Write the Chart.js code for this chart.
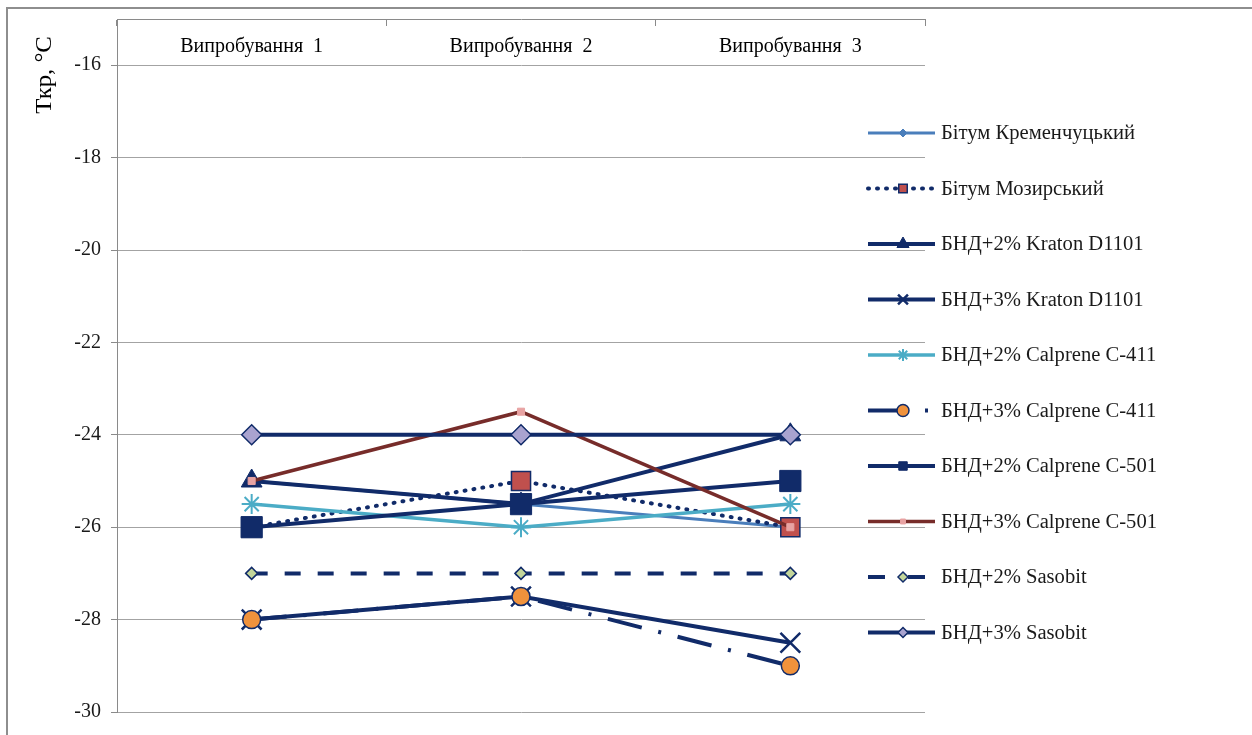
<!DOCTYPE html>
<html>
<head>
<meta charset="utf-8">
<script src="https://cdn.jsdelivr.net/npm/chart.js@4.4.1/dist/chart.umd.min.js"></script>
<style>
  html, body { margin: 0; padding: 0; background: #fff; overflow: hidden; }
  #frame { position: absolute; left: 6px; top: 7px; width: 1300px; height: 800px; border: 2px solid #8e8e8e; box-sizing: border-box; }
  #wrap { position: absolute; left: 0; top: 0; width: 1252px; height: 735px; }
</style>
</head>
<body>
<div id="frame"></div>
<div id="wrap"><canvas id="chart"></canvas></div>
<script>
const categories = ['Випробування  1', 'Випробування  2', 'Випробування  3'];

const kremenchuk = [-25, -25.5, -26];
const mozyr = [-26, -25, -26];
const kraton2 = [-25, -25.5, -24];
const kraton3 = [-28, -27.5, -28.5];
const calprene411_2 = [-25.5, -26, -25.5];
const calprene411_3 = [-28, -27.5, -29];
const calprene501_2 = [-26, -25.5, -25];
const calprene501_3 = [-25, -23.5, -26];
const sasobit2 = [-27, -27, -27];
const sasobit3 = [-24, -24, -24];

const yMin = -30;
const yMax = -15;
const yStep = 2;
const yTitle = 'Ткр, °С';

const navy = '#112B69';
const gridGray = '#a3a3a3';
const axisGray = '#8a8a8a';
const serif = 'Liberation Serif';

function serifText(ctx, text, x, y, size, stretch, align) {
  ctx.save();
  ctx.translate(x, y);
  ctx.scale(stretch, 1);
  ctx.font = size + 'px "' + serif + '"';
  ctx.textAlign = align;
  ctx.textBaseline = 'middle';
  ctx.fillText(text, 0, 0);
  ctx.restore();
}

// legend at the right, drawn by hand so line samples keep dash + marker
const sideLegend = {
  id: 'sideLegend',
  afterDraw(chart) {
    const ctx = chart.ctx;
    chart.data.datasets.forEach((ds, i) => {
      const y = 133 + i * 55.5;
      ctx.save();
      ctx.strokeStyle = ds.borderColor;
      ctx.lineWidth = ds.borderWidth;
      ctx.lineCap = ds.borderCapStyle || 'butt';
      ctx.setLineDash(ds.legendDash || ds.borderDash || []);
      ctx.beginPath();
      ctx.moveTo(868, y);
      ctx.lineTo(935, y);
      ctx.stroke();
      ctx.setLineDash([]);
      ctx.lineCap = 'butt';
      ctx.fillStyle = ds.pointBackgroundColor;
      ctx.strokeStyle = ds.pointBorderColor;
      ctx.lineWidth = ds.pointBorderWidth;
      Chart.helpers.drawPoint(ctx, {
        pointStyle: ds.pointStyle,
        rotation: 0,
        radius: ds.legendRadius,
        borderWidth: ds.pointBorderWidth
      }, 903, y);
      ctx.fillStyle = '#1a1a1a';
      serifText(ctx, ds.label, 941, y + 1, 20, 1.03, 'left');
      ctx.restore();
    });
  }
};

const axisTitle = {
  id: 'axisTitle',
  afterDraw(chart) {
    const ctx = chart.ctx;
    ctx.save();
    ctx.fillStyle = '#000';
    ctx.translate(45, 75);
    ctx.rotate(-Math.PI / 2);
    serifText(ctx, yTitle, 0, 0, 24, 1.03, 'center');
    ctx.restore();
  }
};

let datasets = [
  {
    label: 'Бітум Кременчуцький', data: kremenchuk,
    borderColor: '#4A7EBB', borderWidth: 3,
    pointStyle: 'rectRot', pointRadius: 4, legendRadius: 4,
    pointBackgroundColor: '#4A7EBB', pointBorderColor: '#4A7EBB', pointBorderWidth: 1
  },
  {
    label: 'Бітум Мозирський', data: mozyr,
    borderColor: navy, borderWidth: 4, borderDash: [1, 8], borderCapStyle: 'round',
    pointStyle: 'rect', pointRadius: 13.5, legendRadius: 6,
    pointBackgroundColor: '#C0504D', pointBorderColor: navy, pointBorderWidth: 1.5
  },
  {
    label: 'БНД+2% Kraton D1101', data: kraton2,
    borderColor: navy, borderWidth: 4,
    pointStyle: 'triangle', pointRadius: 12, legendRadius: 7,
    pointBackgroundColor: navy, pointBorderColor: navy, pointBorderWidth: 1
  },
  {
    label: 'БНД+3% Kraton D1101', data: kraton3,
    borderColor: navy, borderWidth: 4,
    pointStyle: 'crossRot', pointRadius: 14, legendRadius: 7,
    pointBackgroundColor: navy, pointBorderColor: navy, pointBorderWidth: 2.5
  },
  {
    label: 'БНД+2% Calprene C-411', data: calprene411_2,
    borderColor: '#4BACC6', borderWidth: 3.5,
    pointStyle: 'star', pointRadius: 10, legendRadius: 6,
    pointBackgroundColor: '#4BACC6', pointBorderColor: '#4BACC6', pointBorderWidth: 2
  },
  {
    label: 'БНД+3% Calprene C-411', data: calprene411_3,
    borderColor: navy, borderWidth: 4, borderDash: [35, 17, 3, 17], legendDash: [35, 22, 3, 20],
    pointStyle: 'circle', pointRadius: 9, legendRadius: 6,
    pointBackgroundColor: '#F0923C', pointBorderColor: navy, pointBorderWidth: 1.5
  },
  {
    label: 'БНД+2% Calprene C-501', data: calprene501_2,
    borderColor: navy, borderWidth: 4,
    pointStyle: 'rect', pointRadius: 15, legendRadius: 6,
    pointBackgroundColor: navy, pointBorderColor: navy, pointBorderWidth: 1
  },
  {
    label: 'БНД+3% Calprene C-501', data: calprene501_3,
    borderColor: '#772C2A', borderWidth: 3.5,
    pointStyle: 'rect', pointRadius: 5, legendRadius: 3.5,
    pointBackgroundColor: '#E8A3A3', pointBorderColor: '#E8A3A3', pointBorderWidth: 1
  },
  {
    label: 'БНД+2% Sasobit', data: sasobit2,
    borderColor: navy, borderWidth: 4, borderDash: [16, 17], legendDash: [17, 23, 17, 50],
    pointStyle: 'rectRot', pointRadius: 6, legendRadius: 5,
    pointBackgroundColor: '#C3D69B', pointBorderColor: navy, pointBorderWidth: 1.5
  },
  {
    label: 'БНД+3% Sasobit', data: sasobit3,
    borderColor: navy, borderWidth: 4,
    pointStyle: 'rectRot', pointRadius: 10, legendRadius: 5,
    pointBackgroundColor: '#A9A3CF', pointBorderColor: navy, pointBorderWidth: 1.5
  }
];

// excel puts later series on top
datasets.forEach((ds, i) => {
  ds.order = -i;
  ds.fill = false;
  ds.tension = 0;
  ds.pointHoverRadius = ds.pointRadius;
});

let config = {
  type: 'line',
  data: { labels: categories, datasets: datasets },
  options: {
    responsive: true,
    maintainAspectRatio: false,
    animation: false,
    events: [],
    layout: { padding: { left: 0, top: 19, right: 327, bottom: 23 } },
    plugins: {
      legend: { display: false },
      tooltip: { enabled: false }
    },
    scales: {
      x: {
        type: 'category',
        position: { y: yMax },
        offset: true,
        grid: { offset: true, drawOnChartArea: false, drawTicks: true, tickLength: 6, tickColor: axisGray },
        border: { color: axisGray },
        ticks: {
          padding: 10, maxRotation: 0, autoSkip: false,
          color: '#000',
          font: { family: serif, size: 20 }
        }
      },
      y: {
        min: yMin,
        max: yMax,
        ticks: {
          stepSize: yStep,
          includeBounds: false,
          padding: 10,
          color: '#1a1a1a',
          font: { family: serif, size: 20 }
        },
        grid: { color: gridGray, tickLength: 6, tickColor: axisGray },
        border: { color: axisGray },
        afterFit: (scale) => {
          scale.width = 117;
          scale.paddingTop = 0;
          scale.paddingBottom = 0;
        }
      }
    }
  },
  plugins: [sideLegend, axisTitle]
};

var ctx = document.getElementById('chart').getContext('2d');
let myChart = new Chart(ctx, config);
</script>
</body>
</html>
